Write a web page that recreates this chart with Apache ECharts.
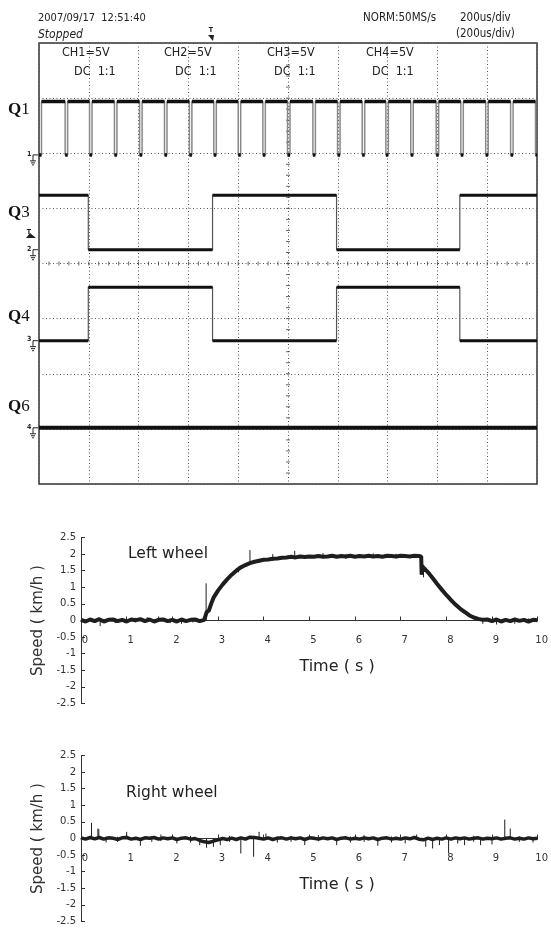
<!DOCTYPE html>
<html>
<head>
<meta charset="utf-8">
<script src="https://cdn.jsdelivr.net/npm/echarts@6/dist/echarts.min.js"></script>
<style>
html, body { margin: 0; padding: 0; background: #fff; }
#main { width: 551px; height: 934px; }
</style>
</head>
<body>
<div id="main"></div>
<script>
// scope capture: time in us (200us/div), level in divisions counted from the bottom
var q1Fall = [0, 105, 203, 303, 404, 504, 604, 702, 800, 899, 998, 1100, 1199, 1298, 1393, 1493, 1595, 1694, 1794, 1894, 1994];
var q1PulseWidth = 10;
var q1Levels = [5.97, 6.94];
var q3Edges = [198, 697, 1195, 1690];
var q3Levels = [4.25, 5.24];
var q4Edges = [198, 697, 1195, 1690];
var q4Levels = [2.6, 3.57];
var q6Levels = [1.02, 1.02];

// wheel speed (km/h) against time (s)
var leftTime = [0, 0.1, 0.2, 0.3, 0.4, 0.5, 0.6, 0.7, 0.8, 0.9, 1.0, 1.1, 1.2, 1.3, 1.4, 1.5, 1.6, 1.7, 1.8, 1.9,
  2.0, 2.1, 2.2, 2.3, 2.4, 2.5, 2.6, 2.7, 2.72, 2.75, 2.8, 2.85, 2.9,
  3.0, 3.1, 3.2, 3.3, 3.4, 3.5, 3.6, 3.7, 3.8, 3.9, 4.0, 4.1, 4.2, 4.3, 4.4, 4.5, 4.6, 4.7, 4.8, 4.9,
  5.0, 5.1, 5.2, 5.3, 5.4, 5.5, 5.6, 5.7, 5.8, 5.9, 6.0, 6.1, 6.2, 6.3, 6.4, 6.5, 6.6, 6.7, 6.8, 6.9,
  7.0, 7.1, 7.2, 7.3, 7.4, 7.45, 7.46, 7.48, 7.52,
  7.6, 7.7, 7.8, 7.9, 8.0, 8.1, 8.2, 8.3, 8.4, 8.5, 8.6, 8.7, 8.8, 8.9, 9.0, 9.1, 9.2, 9.3, 9.4, 9.5, 9.6, 9.7, 9.8, 9.9, 10.0];
var leftSpeed = [0.02, -0.03, 0.03, -0.02, 0.04, -0.03, 0.02, 0.03, -0.02, 0.02, -0.03, 0.03, 0.01, 0.04, -0.02, 0.03, -0.03, 0.02, 0.03, -0.02,
  0.02, -0.03, 0.03, -0.02, 0.02, 0.03, -0.02, 0.02, 0.0, 0.25, 0.3, 0.5, 0.68,
  0.9, 1.08, 1.24, 1.38, 1.5, 1.6, 1.67, 1.73, 1.77, 1.8, 1.83, 1.84, 1.86, 1.87, 1.89, 1.9, 1.92, 1.9, 1.93, 1.91,
  1.93, 1.92, 1.94, 1.92, 1.93, 1.95, 1.92, 1.94, 1.93, 1.95, 1.92, 1.94, 1.93, 1.95, 1.93, 1.94, 1.92, 1.95, 1.94, 1.93,
  1.95, 1.94, 1.93, 1.95, 1.94, 1.93, 1.38, 1.62, 1.58,
  1.45, 1.28, 1.1, 0.93, 0.77, 0.62, 0.48, 0.36, 0.26, 0.16, 0.09, 0.05, 0.02, 0.03, -0.02, 0.03, -0.03, 0.02, -0.02, 0.03, -0.01, 0.02, -0.03, 0.02, 0.01];
// [time, low, high] of the single-sample spikes
var leftSpikes = [[0.42, -0.17, 0.02], [0.75, -0.08, 0.06], [1.2, -0.06, 0.08], [1.45, 0, 0.1], [1.7, 0, 0.12], [1.95, -0.08, 0.05],
  [2.2, -0.1, 0], [2.45, -0.06, 0.07], [2.74, 0, 1.12], [3.45, 1.45, 1.62], [3.7, 1.73, 2.12], [4.2, 1.8, 2.0], [4.68, 1.9, 2.1],
  [5.3, 1.88, 2.03], [5.8, 1.86, 2.0], [6.4, 1.88, 2.02], [6.9, 1.87, 2.01], [7.3, 1.88, 2.0], [7.5, 1.3, 1.68],
  [8.8, -0.1, 0.02], [9.1, -0.12, 0], [9.5, -0.1, 0.04], [9.8, -0.07, 0.06]];

var rightTime = [0, 0.1, 0.2, 0.3, 0.4, 0.5, 0.6, 0.7, 0.8, 0.9, 1.0, 1.1, 1.2, 1.3, 1.4, 1.5, 1.6, 1.7, 1.8, 1.9,
  2.0, 2.1, 2.2, 2.3, 2.4, 2.5, 2.6, 2.7, 2.8, 2.9, 3.0, 3.1, 3.2, 3.3, 3.4, 3.5, 3.6, 3.7, 3.8, 3.9,
  4.0, 4.1, 4.2, 4.3, 4.4, 4.5, 4.6, 4.7, 4.8, 4.9, 5.0, 5.1, 5.2, 5.3, 5.4, 5.5, 5.6, 5.7, 5.8, 5.9,
  6.0, 6.1, 6.2, 6.3, 6.4, 6.5, 6.6, 6.7, 6.8, 6.9, 7.0, 7.1, 7.2, 7.3, 7.4, 7.5, 7.6, 7.7, 7.8, 7.9,
  8.0, 8.1, 8.2, 8.3, 8.4, 8.5, 8.6, 8.7, 8.8, 8.9, 9.0, 9.1, 9.2, 9.3, 9.4, 9.5, 9.6, 9.7, 9.8, 9.9, 10.0];
var rightSpeed = [0.02, -0.02, 0.03, -0.01, 0.03, -0.02, 0.02, 0.01, -0.03, 0.02, 0.03, -0.02, 0.01, -0.03, 0.02, 0.01, 0.03, -0.02, 0.02, -0.01,
  0.02, -0.03, 0.01, 0.02, -0.02, 0.0, -0.06, -0.1, -0.12, -0.08, -0.04, 0.0, -0.03, 0.01, -0.03, 0.02, -0.02, 0.04, 0.03, 0.01,
  -0.02, 0.02, -0.03, 0.01, 0.02, -0.02, 0.02, -0.01, 0.02, -0.03, 0.02, 0.01, -0.02, 0.02, -0.01, 0.02, -0.03, 0.01, 0.02, -0.02,
  0.01, -0.02, 0.02, -0.01, 0.02, -0.03, 0.01, 0.02, -0.02, 0.01, -0.02, 0.02, -0.01, 0.03, -0.02, -0.04, 0.01, -0.03, 0.01, -0.02,
  0.02, -0.02, 0.02, -0.01, 0.02, -0.02, 0.01, 0.02, -0.02, 0.01, -0.01, 0.02, -0.02, 0.01, 0.02, -0.02, 0.01, -0.02, 0.02, -0.01, 0.01];
var rightSpikes = [[0.23, 0, 0.47], [0.37, 0, 0.3], [0.39, 0, 0.28], [0.55, -0.12, 0.06], [0.8, -0.1, 0.05], [1.0, 0, 0.2],
  [1.3, -0.22, 0], [1.55, -0.1, 0.06], [1.75, -0.08, 0.12], [2.1, -0.15, 0], [2.4, -0.12, 0.08], [2.6, -0.2, 0],
  [2.75, -0.28, 0], [2.9, -0.25, 0], [3.05, -0.2, 0], [3.25, -0.1, 0.08], [3.5, -0.45, 0], [3.78, -0.55, 0], [3.9, 0, 0.2],
  [4.05, 0, 0.15], [4.3, -0.12, 0.06], [4.6, -0.1, 0.08], [4.9, -0.2, 0], [5.2, -0.08, 0.1], [5.6, -0.2, 0], [5.9, -0.12, 0.06],
  [6.2, -0.1, 0.1], [6.5, -0.22, 0], [6.8, -0.12, 0.06], [7.1, -0.15, 0.04], [7.35, 0, 0.12], [7.55, -0.25, 0],
  [7.7, -0.3, 0], [7.85, -0.2, 0], [8.05, -0.45, 0], [8.25, -0.15, 0.05], [8.4, -0.2, 0], [8.6, -0.1, 0.08], [8.75, -0.2, 0],
  [9.0, -0.18, 0], [9.28, 0, 0.57], [9.4, 0, 0.3], [9.6, -0.1, 0.06], [9.9, -0.12, 0]];

var SCOPE_END = 2000;
var SCOPE_FONT = "'Liberation Sans Narrow', 'DejaVu Sans Condensed', sans-serif";
var PLOT_FONT = "'DejaVu Sans', Verdana, sans-serif";

function stepWave(edges, levels, startHigh) {
  var s = startHigh ? 1 : 0;
  var pts = [[0, levels[s]]];
  edges.forEach(function (e) {
    pts.push([e, levels[s]]);
    s = 1 - s;
    pts.push([e, levels[s]]);
  });
  pts.push([SCOPE_END, levels[s]]);
  return pts;
}

// only the flat parts, drawn heavier like the scope trace
function flatParts(pts) {
  var out = [];
  for (var i = 0; i < pts.length - 1; i++) {
    if (pts[i][1] === pts[i + 1][1] && pts[i + 1][0] > pts[i][0]) {
      out.push(pts[i], pts[i + 1], [pts[i + 1][0], '-']);
    }
  }
  return out;
}

function spikeLines(list) {
  var out = [];
  list.forEach(function (s) {
    out.push([s[0], s[1]], [s[0], s[2]], [s[0], '-']);
  });
  return out;
}

function pairs(xs, ys) {
  return xs.map(function (x, i) { return [x, ys[i]]; });
}

var q1Edges = [];
q1Fall.forEach(function (f) {
  if (f > 0) q1Edges.push(f);
  if (f + q1PulseWidth < SCOPE_END) q1Edges.push(f + q1PulseWidth);
});
var q1Wave = stepWave(q1Edges, q1Levels, q1Fall[0] !== 0);
var q3Wave = stepWave(q3Edges, q3Levels, true);
var q4Wave = stepWave(q4Edges, q4Levels, false);
var q6Wave = stepWave([], q6Levels, false);

// graticule ticks on the centre lines (1/5 division)
var centreV = [], centreH = [];
for (var k = 1; k < 40; k++) centreV.push([1000, k * 0.2]);
for (var j = 1; j < 50; j++) centreH.push([j * 40, 4]);

var chart = echarts.init(document.getElementById('main'));

function scopeLine(data, width, color) {
  return {
    type: 'line', xAxisIndex: 0, yAxisIndex: 0, data: data, showSymbol: false, symbol: 'none',
    lineStyle: { width: width, color: color }, silent: true, animation: false, z: 3
  };
}

var SPEED_H = 166;

function speedAxisX(idx) {
  return {
    gridIndex: idx, type: 'value', min: 0, max: 10, interval: 1,
    position: 'bottom', offset: -SPEED_H / 2,
    axisLine: { onZero: false, lineStyle: { color: '#333', width: 1 } },
    axisTick: { inside: true, length: 4, lineStyle: { color: '#333' } },
    axisLabel: { margin: 15, fontSize: 10, color: '#333', fontFamily: PLOT_FONT, padding: [0, 0, 0, 8] },
    splitLine: { show: false }
  };
}

function speedAxisY(idx) {
  return {
    gridIndex: idx, type: 'value', min: -2.5, max: 2.5, interval: 0.5,
    axisLine: { show: true, onZero: false, lineStyle: { color: '#333', width: 1 } },
    axisTick: { inside: true, length: 4, lineStyle: { color: '#333' } },
    axisLabel: { margin: 5, fontSize: 10, color: '#333', fontFamily: PLOT_FONT },
    splitLine: { show: false },
    name: 'Speed ( km/h )', nameLocation: 'middle', nameGap: 27, nameRotate: 90,
    nameTextStyle: { fontSize: 15, color: '#333', fontFamily: PLOT_FONT }
  };
}

function speedSeries(idx, data, spikes, width) {
  return [{
    type: 'line', xAxisIndex: idx, yAxisIndex: idx, data: data, showSymbol: false, symbol: 'none',
    lineStyle: { width: width, color: '#1e1e1e' }, animation: false
  }, {
    type: 'line', xAxisIndex: idx, yAxisIndex: idx, data: spikes, showSymbol: false, symbol: 'none',
    lineStyle: { width: 1, color: '#1e1e1e' }, animation: false
  }];
}

var scopeGridLine = { show: true, lineStyle: { color: '#555', width: 1, type: [1, 2.5] } };

chart.setOption({
  backgroundColor: '#fff',
  animation: false,
  grid: [
    { left: 39, top: 43, width: 498, height: 441, show: true, borderColor: '#333', borderWidth: 1.5, backgroundColor: 'transparent' },
    { left: 81, top: 537.5, width: 457, height: SPEED_H },
    { left: 81, top: 755.5, width: 457, height: SPEED_H }
  ],
  xAxis: [
    { gridIndex: 0, type: 'value', min: 0, max: SCOPE_END, interval: 200, axisLine: { show: false }, axisTick: { show: false }, axisLabel: { show: false }, splitLine: scopeGridLine },
    speedAxisX(1),
    speedAxisX(2)
  ],
  yAxis: [
    { gridIndex: 0, type: 'value', min: 0, max: 8, interval: 1, axisLine: { show: false }, axisTick: { show: false }, axisLabel: { show: false }, splitLine: scopeGridLine },
    speedAxisY(1),
    speedAxisY(2)
  ],
  series: [
    { type: 'scatter', xAxisIndex: 0, yAxisIndex: 0, data: centreV, symbol: 'rect', symbolSize: [4, 1], itemStyle: { color: '#444' }, silent: true },
    { type: 'scatter', xAxisIndex: 0, yAxisIndex: 0, data: centreH, symbol: 'rect', symbolSize: [1, 4], itemStyle: { color: '#444' }, silent: true },
    scopeLine(q1Wave, 1.5, '#888'),
    scopeLine(flatParts(q1Wave), 3.5, '#111'),
    scopeLine(q3Wave, 1.2, '#555'),
    scopeLine(flatParts(q3Wave), 3, '#111'),
    scopeLine(q4Wave, 1.2, '#555'),
    scopeLine(flatParts(q4Wave), 3, '#111'),
    scopeLine(q6Wave, 4, '#111')
  ].concat(
    speedSeries(1, pairs(leftTime, leftSpeed), spikeLines(leftSpikes), 4),
    speedSeries(2, pairs(rightTime, rightSpeed), spikeLines(rightSpikes), 3.5)
  )
});

function txt(x, y, text, font, extra) {
  var style = { text: text, font: font, fill: '#222', textAlign: 'left', textVerticalAlign: 'middle' };
  if (extra) for (var key in extra) style[key] = extra[key];
  return { type: 'text', x: x, y: y, style: style, silent: true };
}

function qLabel(y, n) {
  return {
    type: 'text', x: 8, y: y, silent: true,
    style: {
      text: '{q|Q}{n|' + n + '}', textVerticalAlign: 'middle',
      rich: {
        q: { fontFamily: "'Liberation Serif', serif", fontWeight: 'bold', fontSize: 17, fill: '#111' },
        n: { fontFamily: "'Liberation Serif', serif", fontSize: 17, fill: '#111' }
      }
    }
  };
}

// channel ground reference marker on the left of the graticule
function groundMark(label, level) {
  var p = chart.convertToPixel({ gridIndex: 0 }, [0, level]);
  var x = p[0], y = p[1];
  var s = { stroke: '#222', lineWidth: 1, fill: null };
  return [
    txt(x - 12, y - 1, label, 'bold 7px ' + SCOPE_FONT),
    { type: 'polyline', shape: { points: [[x - 1, y], [x - 6, y], [x - 6, y + 6]] }, style: s, silent: true },
    { type: 'line', shape: { x1: x - 9, y1: y + 6, x2: x - 3, y2: y + 6 }, style: s, silent: true },
    { type: 'line', shape: { x1: x - 8, y1: y + 8, x2: x - 4, y2: y + 8 }, style: s, silent: true },
    { type: 'line', shape: { x1: x - 7, y1: y + 10, x2: x - 5, y2: y + 10 }, style: s, silent: true }
  ];
}

var hdr = '11.5px ' + SCOPE_FONT;
var ch = '12.5px ' + SCOPE_FONT;
var graphics = [
  txt(38, 18, '2007/09/17  12:51:40', '11px ' + SCOPE_FONT),
  txt(38, 34.5, 'Stopped', 'italic 12px ' + SCOPE_FONT),
  txt(363, 18, 'NORM:50MS/s', hdr),
  txt(460, 18, '200us/div', hdr),
  txt(456, 34.5, '(200us/div)', hdr),
  txt(62, 53, 'CH1=5V', ch), txt(74, 72, 'DC  1:1', ch),
  txt(164, 53, 'CH2=5V', ch), txt(175, 72, 'DC  1:1', ch),
  txt(267, 53, 'CH3=5V', ch), txt(274, 72, 'DC  1:1', ch),
  txt(366, 53, 'CH4=5V', ch), txt(372, 72, 'DC  1:1', ch),
  // trigger position marker
  txt(211, 30, 'T', 'bold 7px ' + SCOPE_FONT, { textAlign: 'center' }),
  { type: 'polygon', shape: { points: [[208, 35], [214, 35], [213, 41]] }, style: { fill: '#222' }, silent: true },
  // trigger level marker
  txt(29, 232, 'T', 'bold 7px ' + SCOPE_FONT, { textAlign: 'center' }),
  { type: 'polygon', shape: { points: [[26, 238], [36, 238], [30, 233]] }, style: { fill: '#222' }, silent: true },
  qLabel(110, 1), qLabel(213, 3), qLabel(317, 4), qLabel(407, 6),
  txt(128, 554, 'Left wheel', '15.5px ' + PLOT_FONT),
  txt(126, 793, 'Right wheel', '15.5px ' + PLOT_FONT),
  txt(337, 667, 'Time ( s )', '16px ' + PLOT_FONT, { textAlign: 'center' }),
  txt(337, 885, 'Time ( s )', '16px ' + PLOT_FONT, { textAlign: 'center' })
].concat(
  groundMark('1', q1Levels[0]),
  groundMark('2', q3Levels[0]),
  groundMark('3', q4Levels[0]),
  groundMark('4', q6Levels[0])
);

chart.setOption({ graphic: graphics });
</script>
</body>
</html>
